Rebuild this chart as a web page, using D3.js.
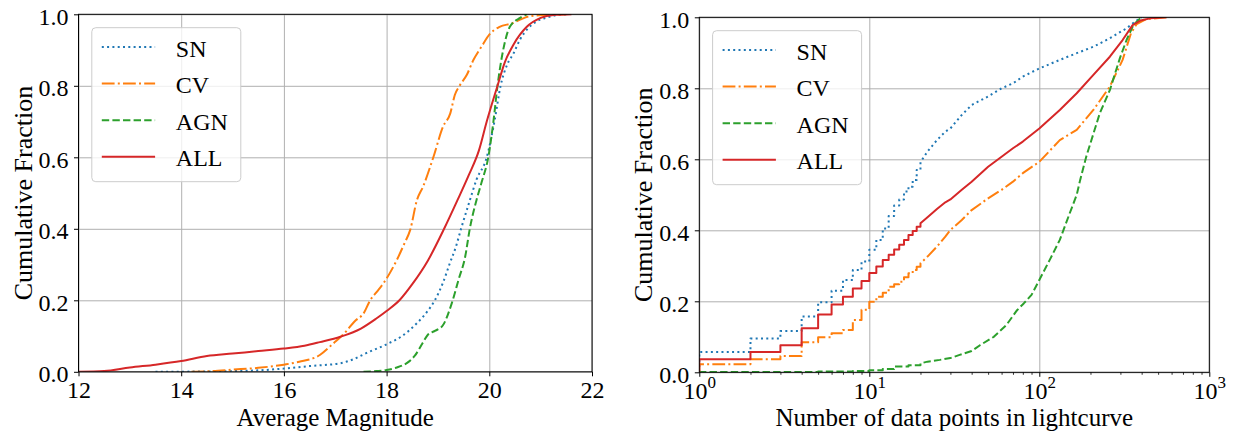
<!DOCTYPE html>
<html>
<head>
<meta charset="utf-8">
<script src="https://cdn.jsdelivr.net/npm/d3@7"></script>
<style>
  body { margin: 0; background: #fff; }
  svg { display: block; }
</style>
</head>
<body>
<svg id="chart" width="1234" height="432" font-family="Liberation Serif"></svg>
<script>
// ---- Series definitions ----
const seriesNames  = ["SN", "CV", "AGN", "ALL"];
const seriesColors = ["#1f77b4", "#ff7f0e", "#2ca02c", "#d62728"];
const seriesDashes = ["2,3.3", "12.8,3.2,2,3.2", "7.4,3.2", null];

// ---- Left panel: cumulative fraction vs. average magnitude ----
const magTicks = [12, 14, 16, 18, 20, 22];
const fracTicks = [0, 0.2, 0.4, 0.6, 0.8, 1.0];

const magSN = [[13.5,0],[15.0,0.002],[15.5,0.004],[16.0,0.009],[16.5,0.016],[17.1,0.024],[17.35,0.035],
  [17.6,0.052],[18.0,0.077],[18.3,0.1],[18.59,0.136],[18.8,0.17],[18.94,0.2],[19.1,0.25],[19.23,0.303],
  [19.35,0.35],[19.45,0.4],[19.6,0.47],[19.75,0.537],[19.95,0.6],[20.1,0.7],[20.22,0.8],[20.35,0.86],
  [20.47,0.89],[20.6,0.93],[20.75,0.96],[20.92,0.98],[21.1,0.99],[21.25,0.996],[21.5,1.0]];
const magCV = [[14.2,0],[14.6,0.002],[15.0,0.006],[15.5,0.011],[16.0,0.02],[16.3,0.028],[16.7,0.047],
  [16.96,0.079],[17.14,0.102],[17.4,0.144],[17.55,0.163],[17.68,0.2],[17.8,0.222],[17.94,0.248],[18.2,0.313],
  [18.35,0.36],[18.46,0.397],[18.59,0.48],[18.71,0.518],[18.91,0.6],[19.1,0.686],[19.24,0.723],[19.33,0.775],
  [19.42,0.8],[19.56,0.83],[19.69,0.872],[19.85,0.91],[20.0,0.943],[20.2,0.965],[20.45,0.975],[20.6,0.985],
  [20.8,0.995],[21.2,0.999],[21.5,1.0]];
const magAGN = [[17.55,0],[17.8,0.002],[18.0,0.005],[18.2,0.012],[18.4,0.025],[18.55,0.045],[18.7,0.08],
  [18.8,0.103],[18.95,0.115],[19.1,0.131],[19.27,0.192],[19.4,0.257],[19.53,0.322],[19.62,0.4],[19.75,0.48],
  [19.85,0.53],[19.98,0.6],[20.08,0.7],[20.16,0.8],[20.27,0.9],[20.4,0.965],[20.6,0.99],[20.73,1.0]];
const magALL = [[12.0,0],[12.5,0.002],[13.0,0.012],[13.5,0.02],[14.0,0.03],[14.5,0.044],[15.0,0.051],
  [15.5,0.058],[16.0,0.065],[16.4,0.073],[16.7,0.083],[17.1,0.098],[17.5,0.121],[17.8,0.149],[18.0,0.17],
  [18.25,0.2],[18.5,0.245],[18.8,0.31],[19.12,0.4],[19.38,0.48],[19.6,0.55],[19.8,0.62],[19.95,0.7],
  [20.16,0.8],[20.3,0.865],[20.47,0.915],[20.73,0.965],[21.0,0.99],[21.25,0.998],[21.6,1.0]];

// ---- Right panel: cumulative fraction vs. number of data points ----
const countTicks = [1, 10, 100, 1000];

const nSN = [[1,0],[1,0.057],[2,0.095],[3,0.116],[4,0.157],[5,0.197],[6,0.230],[7,0.260],[8,0.288],
  [9,0.312],[10,0.345],[11,0.373],[12,0.405],[13,0.44],[14,0.47],[15,0.487],[16,0.509],[17,0.523],
  [18,0.542],[19,0.57],[20,0.592],[22,0.622],[25,0.654],[28,0.678],[30,0.687],[35,0.725],[40,0.753],
  [50,0.777],[60,0.8],[70,0.814],[80,0.833],[100,0.856],[132,0.88],[166,0.899],[208,0.917],[260,0.941],
  [326,0.969],[374,0.991],[400,1.0]];
const nCV = [[1,0],[1,0.023],[2,0.037],[3,0.046],[4,0.085],[5,0.099],[6,0.110],[7,0.119],[8,0.147],
  [9,0.176],[10,0.199],[11,0.213],[12,0.224],[13,0.241],[14,0.248],[15,0.255],[16,0.268],[17,0.279],
  [18,0.288],[19,0.297],[20,0.307],[22,0.326],[25,0.354],[28,0.382],[30,0.401],[35,0.429],[40,0.457],
  [50,0.49],[60,0.514],[70,0.537],[80,0.561],[100,0.593],[132,0.654],[166,0.683],[208,0.739],[260,0.805],
  [309,0.88],[346,0.955],[374,0.981],[427,0.995],[560,1.0]];
const nAGN = [[1,0],[1,0.001],[5,0.002],[8,0.004],[10,0.006],[12,0.009],[14,0.016],[17,0.02],[20,0.025],
  [22,0.03],[26,0.035],[30,0.04],[34,0.049],[40,0.06],[45,0.077],[54,0.1],[64,0.133],[74,0.175],[81,0.194],
  [90,0.218],[100,0.26],[115,0.316],[132,0.373],[151,0.448],[166,0.5],[174,0.542],[189,0.608],[227,0.73],
  [260,0.795],[298,0.885],[326,0.936],[357,0.978],[392,0.997],[410,1.0]];
const nALL = [[1,0],[1,0.037],[2,0.057],[3,0.076],[4,0.124],[5,0.163],[6,0.191],[7,0.213],[8,0.236],
  [9,0.257],[10,0.280],[11,0.298],[12,0.316],[13,0.331],[14,0.346],[15,0.359],[16,0.373],[17,0.387],
  [18,0.398],[19,0.41],[20,0.42],[22,0.437],[25,0.46],[28,0.479],[30,0.487],[35,0.514],[40,0.537],
  [50,0.579],[60,0.607],[70,0.631],[80,0.65],[100,0.687],[132,0.739],[166,0.786],[208,0.838],[260,0.889],
  [309,0.936],[354,0.978],[394,0.991],[448,0.997],[560,1.0]];

const svg = d3.select("#chart");
const FONT = 24;        // tick labels and legend
const TITLE_FONT = 25;  // axis titles
const SERIF = "Liberation Serif";

function styleText(sel, size = FONT) {
  return sel.attr("font-family", SERIF).attr("font-size", size).attr("fill", "#000");
}

function drawPanel(cfg) {
  const { id, x, y, xTickValues, minorTicks, xTickFormat, series, pathFor, xLabel } = cfg;
  const [left, right] = x.range();
  const [bottom, top] = y.range();
  const g = svg.append("g");

  // Grid
  g.append("g").attr("transform", `translate(0,${bottom})`)
    .call(d3.axisBottom(x).tickValues(xTickValues).tickSize(-(bottom - top)).tickFormat(""))
    .call(a => a.select(".domain").remove())
    .call(a => a.selectAll("line").attr("stroke", "#b0b0b0").attr("stroke-width", 1));
  g.append("g").attr("transform", `translate(${left},0)`)
    .call(d3.axisLeft(y).tickValues(fracTicks).tickSize(-(right - left)).tickFormat(""))
    .call(a => a.select(".domain").remove())
    .call(a => a.selectAll("line").attr("stroke", "#b0b0b0").attr("stroke-width", 1));

  // Curves
  g.append("clipPath").attr("id", id + "-clip")
    .append("rect").attr("x", left).attr("y", top).attr("width", right - left).attr("height", bottom - top);
  const curves = g.append("g").attr("clip-path", `url(#${id}-clip)`);
  series.forEach((pts, i) => {
    curves.append("path")
      .attr("d", pathFor(pts))
      .attr("fill", "none")
      .attr("stroke", seriesColors[i])
      .attr("stroke-width", 2)
      .attr("stroke-linejoin", "round")
      .attr("stroke-dasharray", seriesDashes[i]);
  });

  // Spines
  g.append("rect").attr("x", left).attr("y", top).attr("width", right - left).attr("height", bottom - top)
    .attr("fill", "none").attr("stroke", "#000").attr("stroke-width", 1);

  // Bottom axis ticks + labels
  const xAxisG = g.append("g").attr("transform", `translate(0,${bottom})`)
    .call(d3.axisBottom(x).tickValues(xTickValues).tickSize(4.5).tickPadding(5).tickFormat(xTickFormat))
    .attr("font-family", SERIF)
    .call(a => a.select(".domain").remove())
    .call(a => a.selectAll("line").attr("stroke", "#000").attr("stroke-width", 1))
    .call(a => styleText(a.selectAll("text")));
  if (cfg.powerLabels) {
    xAxisG.selectAll(".tick text").each(function (d) {
      const t = d3.select(this);
      t.text(null);
      t.append("tspan").text("10");
      t.append("tspan").attr("dy", -11).attr("font-size", 17).text(Math.round(Math.log10(d)));
    });
  }
  if (minorTicks) {
    g.append("g").attr("transform", `translate(0,${bottom})`)
      .call(d3.axisBottom(x).tickValues(minorTicks).tickSize(2.5).tickFormat(""))
      .call(a => a.select(".domain").remove())
      .call(a => a.selectAll("line").attr("stroke", "#000").attr("stroke-width", 0.8));
  }

  // Left axis ticks + labels
  g.append("g").attr("transform", `translate(${left},0)`)
    .call(d3.axisLeft(y).tickValues(fracTicks).tickSize(4.5).tickPadding(5.5).tickFormat(d3.format(".1f")))
    .attr("font-family", SERIF)
    .call(a => a.select(".domain").remove())
    .call(a => a.selectAll("line").attr("stroke", "#000").attr("stroke-width", 1))
    .call(a => styleText(a.selectAll("text")).attr("dy", 10));

  // Axis titles
  styleText(g.append("text"), TITLE_FONT)
    .attr("x", (left + right) / 2).attr("y", 426)
    .attr("text-anchor", "middle")
    .text(xLabel);
  styleText(g.append("text"), 26)
    .attr("transform", `translate(${left - 47},${(top + bottom) / 2}) rotate(-90)`)
    .attr("text-anchor", "middle")
    .text("Cumulative Fraction");

  // Legend
  const lx = left + 13.3, ly = top + 13.4, lw = 149, lh = 154, rowGap = 36.6;
  const lg = g.append("g");
  lg.append("rect").attr("x", lx).attr("y", ly).attr("width", lw).attr("height", lh)
    .attr("rx", 4).attr("fill", "#fff").attr("fill-opacity", 0.8)
    .attr("stroke", "#cccccc").attr("stroke-width", 1);
  seriesNames.forEach((name, i) => {
    const ry = ly + 19.3 + i * rowGap;
    lg.append("line").attr("x1", lx + 10).attr("x2", lx + 63.3).attr("y1", ry).attr("y2", ry)
      .attr("stroke", seriesColors[i]).attr("stroke-width", 2)
      .attr("stroke-dasharray", seriesDashes[i]);
    styleText(lg.append("text")).attr("x", lx + 84).attr("y", ry + 9.5).text(name);
  });
}

// Left panel scales
const xMag = d3.scaleLinear().domain([12, 22]).range([78.5, 592]);
const yMag = d3.scaleLinear().domain([0, 1]).range([371.8, 14.3]);
const magLine = d3.line().x(d => xMag(d[0])).y(d => yMag(d[1])).curve(d3.curveMonotoneX);

drawPanel({
  id: "mag", x: xMag, y: yMag,
  xTickValues: magTicks, xTickFormat: d3.format("d"),
  series: [magSN, magCV, magAGN, magALL],
  pathFor: pts => magLine(pts),
  xLabel: "Average Magnitude"
});

// Right panel scales (log x)
const xCount = d3.scaleLog().domain([1, 1000]).range([699.3, 1209.3]);
const yCount = d3.scaleLinear().domain([0, 1]).range([372.3, 17.3]);
const stepLine = d3.line().x(d => xCount(d[0])).y(d => yCount(d[1])).curve(d3.curveStepAfter);
const smoothLine = d3.line().x(d => xCount(d[0])).y(d => yCount(d[1]));
const STEP_CUT = 20; // integer counts drawn as steps; beyond this the steps are sub-pixel
const minorCountTicks = xCount.ticks().filter(v => Math.abs(Math.log10(v) - Math.round(Math.log10(v))) > 1e-9);

drawPanel({
  id: "count", x: xCount, y: yCount,
  xTickValues: countTicks, xTickFormat: () => "", powerLabels: true,
  minorTicks: minorCountTicks,
  series: [nSN, nCV, nAGN, nALL],
  pathFor: pts => {
    const head = pts.filter(d => d[0] <= STEP_CUT);
    const tail = pts.filter(d => d[0] >= STEP_CUT);
    return stepLine(head) + smoothLine(tail).replace(/^M/, "L");
  },
  xLabel: "Number of data points in lightcurve"
});
</script>
</body>
</html>
